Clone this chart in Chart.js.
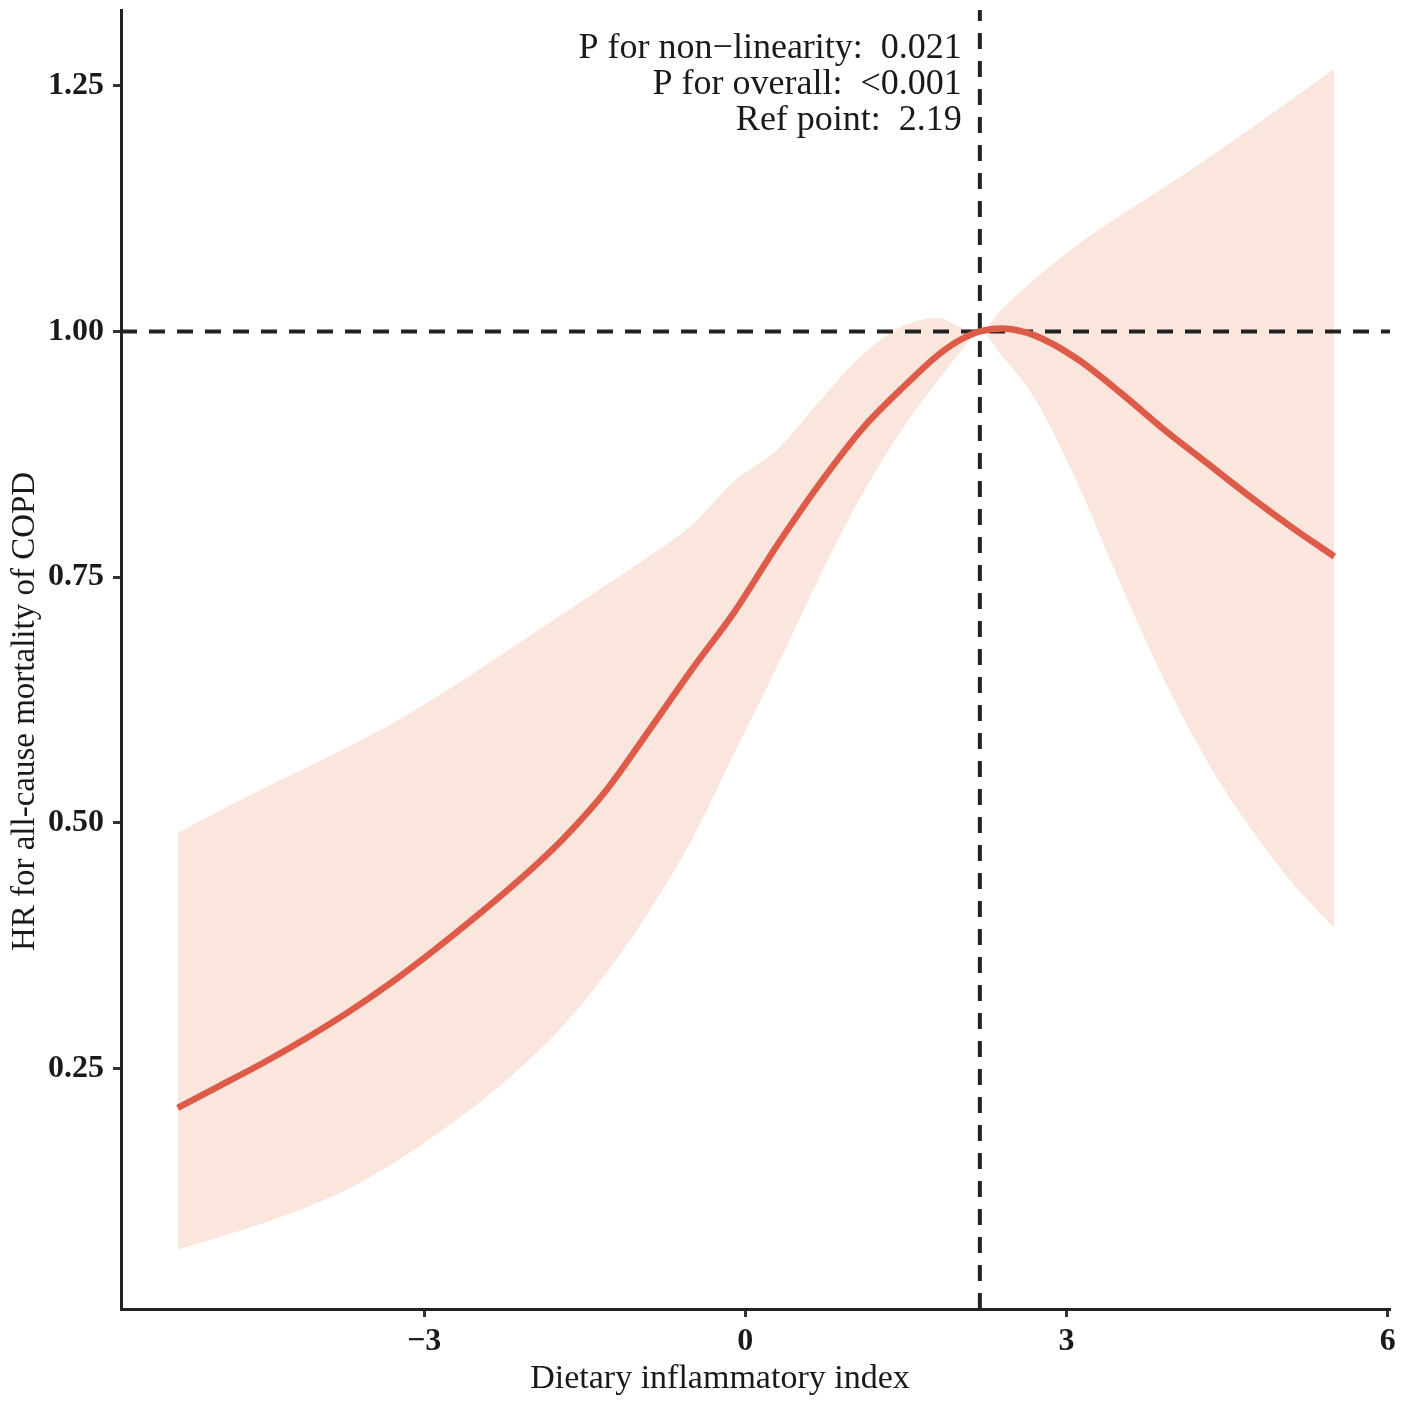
<!DOCTYPE html>
<html>
<head>
<meta charset="utf-8">
<script src="https://cdn.jsdelivr.net/npm/chart.js@4.4.1/dist/chart.umd.min.js"></script>
<style>
  html, body { margin: 0; padding: 0; background: #ffffff; }
  #wrap { width: 1406px; height: 1406px; position: relative; }
</style>
</head>
<body>
<div id="wrap"><canvas id="c"></canvas></div>
<script>
// ---- data ----
const xs    = [-5.3, -4.9, -4.5, -4.1, -3.7, -3.3, -2.9, -2.5, -2.1, -1.7, -1.3, -0.9, -0.5, -0.1, 0.3, 0.7, 1.1, 1.5, 1.8, 2.0, 2.19, 2.4, 2.7, 3.1, 3.5, 3.9, 4.3, 4.7, 5.1, 5.5];
const hr    = [0.210, 0.233, 0.256, 0.281, 0.308, 0.338, 0.371, 0.406, 0.443, 0.484, 0.533, 0.594, 0.656, 0.715, 0.783, 0.846, 0.902, 0.946, 0.976, 0.991, 1.000, 1.003, 0.996, 0.972, 0.938, 0.901, 0.867, 0.833, 0.801, 0.771];
const upper = [0.490, 0.513, 0.535, 0.556, 0.578, 0.601, 0.627, 0.655, 0.684, 0.713, 0.742, 0.771, 0.803, 0.848, 0.880, 0.930, 0.977, 1.007, 1.014, 1.005, 1.000, 1.023, 1.053, 1.088, 1.118, 1.146, 1.175, 1.205, 1.236, 1.267];
const lower = [0.066, 0.079, 0.093, 0.109, 0.128, 0.153, 0.182, 0.214, 0.251, 0.294, 0.347, 0.410, 0.483, 0.572, 0.660, 0.752, 0.836, 0.906, 0.950, 0.978, 1.000, 0.975, 0.932, 0.846, 0.744, 0.648, 0.565, 0.497, 0.440, 0.393];
const xTicks = [-3, 0, 3, 6];
const yTicks = [0.25, 0.50, 0.75, 1.00, 1.25];
const xRange = [-5.83, 6.02];
const yRange = [0.0055, 1.327];
const refPoint = 2.19;
const refHR = 1.0;
const annotationLines = ["P for non\u2212linearity:  0.021", "P for overall:  <0.001", "Ref point:  2.19"];
const xTitle = "Dietary inflammatory index";
const yTitle = "HR for all-cause mortality of COPD";

const pts = arr => xs.map((x, i) => ({ x: x, y: arr[i] }));

const textPlugin = {
  id: 'customText',
  afterDraw(chart) {
    const ctx = chart.ctx;
    const area = chart.chartArea;
    ctx.save();
    ctx.fillStyle = '#1a1a1a';
    // annotation block, right aligned just left of the reference line
    ctx.font = '36px "Liberation Serif"';
    ctx.textAlign = 'right';
    ctx.textBaseline = 'alphabetic';
    const xr = chart.scales.x.getPixelForValue(refPoint) - 18;
    annotationLines.forEach((t, i) => ctx.fillText(t, xr, 58 + i * 36));
    // x axis title
    ctx.font = '34px "Liberation Serif"';
    ctx.textAlign = 'center';
    ctx.textBaseline = 'middle';
    ctx.fillText(xTitle, area.left + (area.right - area.left) * 0.472, 1379);
    // y axis title
    ctx.translate(25, area.top + (area.bottom - area.top) * 0.54);
    ctx.rotate(-Math.PI / 2);
    ctx.font = '33px "Liberation Serif"';
    ctx.fillText(yTitle, 0, 0);
    ctx.restore();
  }
};

new Chart(document.getElementById('c'), {
  type: 'line',
  data: {
    datasets: [
      { label: 'HR', data: pts(hr), borderColor: '#DE5B4A', borderWidth: 6.5, pointRadius: 0,
        cubicInterpolationMode: 'monotone', fill: false, order: 0 },
      { label: 'hline', data: [{ x: xRange[0], y: refHR }, { x: xRange[1], y: refHR }], borderColor: '#222222',
        borderWidth: 4, borderDash: [16, 12], pointRadius: 0, fill: false, order: 1 },
      { label: 'vline', data: [{ x: refPoint, y: yRange[0] }, { x: refPoint, y: yRange[1] }], borderColor: '#222222',
        borderWidth: 4, borderDash: [16, 12], pointRadius: 0, fill: false, order: 1 },
      { label: 'lower', data: pts(lower), borderWidth: 0, borderColor: 'rgba(0,0,0,0)', pointRadius: 0,
        cubicInterpolationMode: 'monotone', fill: false, order: 3 },
      { label: 'upper', data: pts(upper), borderWidth: 0, borderColor: 'rgba(0,0,0,0)', pointRadius: 0,
        cubicInterpolationMode: 'monotone', fill: 3, backgroundColor: '#FAE6DD', order: 4 }
    ]
  },
  options: {
    responsive: true,
    maintainAspectRatio: false,
    animation: false,
    layout: { padding: { top: 10, right: 16, left: 0, bottom: 0 } },
    plugins: {
      legend: { display: false },
      tooltip: { enabled: false },
      filler: { drawTime: 'beforeDatasetsDraw' }
    },
    scales: {
      x: {
        type: 'linear', min: xRange[0], max: xRange[1],
        afterBuildTicks: s => { s.ticks = xTicks.map(v => ({ value: v })); },
        afterFit: s => { s.height = 97; s.paddingLeft = 0; s.paddingRight = 0; },
        border: { display: true, color: '#222222', width: 3 },
        grid: { display: true, drawOnChartArea: false, drawTicks: true, tickLength: 8, tickColor: '#333333', tickWidth: 3 },
        ticks: { color: '#1a1a1a', padding: 6, maxRotation: 0,
                 font: { family: '"Liberation Serif"', size: 32, weight: 'bold' },
                 callback: v => (v < 0 ? '\u2212' + Math.abs(v) : String(v)) }
      },
      y: {
        type: 'linear', min: yRange[0], max: yRange[1],
        afterBuildTicks: s => { s.ticks = yTicks.map(v => ({ value: v })); },
        afterFit: s => { s.width = 121; s.paddingTop = 0; s.paddingBottom = 0; },
        border: { display: true, color: '#222222', width: 3 },
        grid: { display: true, drawOnChartArea: false, drawTicks: true, tickLength: 8, tickColor: '#333333', tickWidth: 3 },
        ticks: { color: '#1a1a1a', padding: 9,
                 font: { family: '"Liberation Serif"', size: 32, weight: 'bold' },
                 callback: v => Number(v).toFixed(2) }
      }
    }
  },
  plugins: [textPlugin]
});
</script>
</body>
</html>
